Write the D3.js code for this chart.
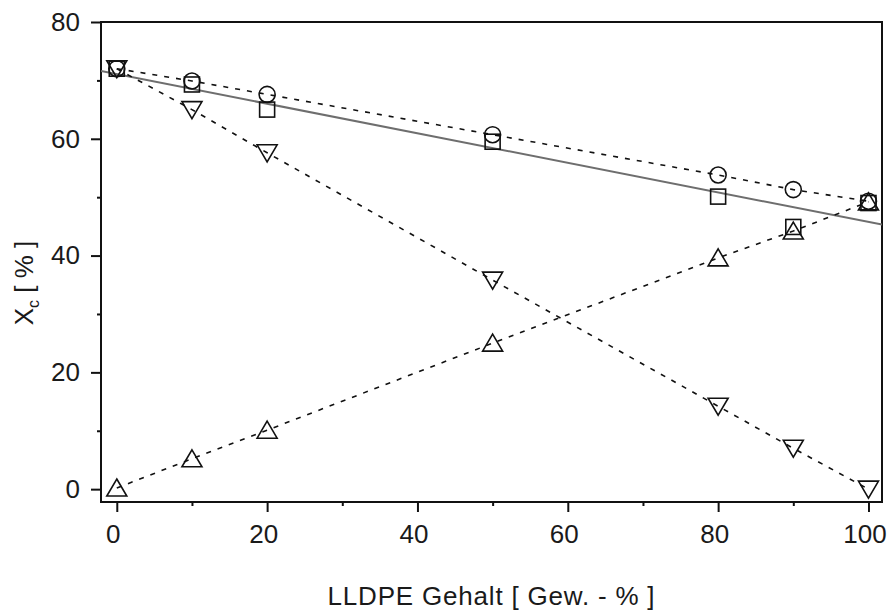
<!DOCTYPE html>
<html>
<head>
<meta charset="utf-8">
<script src="https://cdn.jsdelivr.net/npm/d3@7"></script>
<style>
  html, body { margin: 0; padding: 0; background: #fff; }
  svg text { font-family: "Liberation Sans", Arial, sans-serif; fill: #1a1a1a; }
</style>
</head>
<body>
<svg id="chart" width="889" height="612"></svg>
<script>
// ---- data ----
const xValues = [0, 10, 20, 50, 80, 90, 100];
const circleValues   = [72.0, 69.9, 67.6, 60.7, 53.8, 51.3, 49.3];
const squareValues   = [72.0, 69.3, 65.0, 59.5, 50.1, 44.9, 49.0];
const triUpValues    = [0.2, 5.2, 10.1, 25.0, 39.6, 44.2, 49.2];
const triDownValues  = [72.0, 65.0, 57.6, 35.8, 14.2, 7.0, 0.0];
const fitLineX = [-2.1, 101.8];
const fitLineY = [71.6, 45.3];
const xMajorTicks = [0, 20, 40, 60, 80, 100];
const xMinorTicks = [10, 30, 50, 70, 90];
const yMajorTicks = [0, 20, 40, 60, 80];
const yMinorTicks = [10, 30, 50, 70];
const xLabel = "LLDPE Gehalt [ Gew. - % ]";

(function () {
// ---- layout ----
const svg = d3.select("#chart");
const mLeft = 101, mRight = 882, mTop = 22, mBottom = 502;
const x = d3.scaleLinear().domain([-2.1, 101.8]).range([mLeft, mRight]);
const y = d3.scaleLinear().domain([-2.2, 80]).range([mBottom, mTop]);
const FS = 26;

function styleAxis(g) {
  g.select(".domain").remove();
  g.selectAll(".tick line").attr("stroke", "#111").attr("stroke-width", 2);
  g.selectAll(".tick text").attr("font-size", FS).attr("fill", "#1a1a1a")
    .attr("font-family", "Liberation Sans, Arial, sans-serif");
}
svg.append("g").attr("transform", `translate(0,${mBottom})`)
  .call(d3.axisBottom(x).tickValues(xMajorTicks).tickSize(10).tickPadding(13).tickFormat(d3.format("d")))
  .call(styleAxis)
  .call(g => g.selectAll(".tick text").attr("dx", -4));
svg.append("g").attr("transform", `translate(0,${mBottom})`)
  .call(d3.axisBottom(x).tickValues(xMinorTicks).tickSize(4).tickFormat(""))
  .call(styleAxis);
svg.append("g").attr("transform", `translate(${mLeft},0)`)
  .call(d3.axisLeft(y).tickValues(yMajorTicks).tickSize(10).tickPadding(11).tickFormat(d3.format("d")))
  .call(styleAxis);
svg.append("g").attr("transform", `translate(${mLeft},0)`)
  .call(d3.axisLeft(y).tickValues(yMinorTicks).tickSize(4).tickFormat(""))
  .call(styleAxis);

// frame
svg.append("rect").attr("x", mLeft).attr("y", mTop)
  .attr("width", mRight - mLeft).attr("height", mBottom - mTop)
  .attr("fill", "none").attr("stroke", "#111").attr("stroke-width", 2);

// clip
svg.append("clipPath").attr("id", "clip").append("rect")
  .attr("x", mLeft).attr("y", mTop).attr("width", mRight - mLeft).attr("height", mBottom - mTop);
const plot = svg.append("g").attr("clip-path", "url(#clip)");

// fit line
plot.append("line")
  .attr("x1", x(fitLineX[0])).attr("y1", y(fitLineY[0]))
  .attr("x2", x(fitLineX[1])).attr("y2", y(fitLineY[1]))
  .attr("stroke", "#6e6e6e").attr("stroke-width", 2);

// dashed series lines
const line = d3.line().x(d => x(d[0])).y(d => y(d[1]));
[circleValues, triUpValues, triDownValues].forEach(vals => {
  plot.append("path")
    .datum(xValues.map((xv, i) => [xv, vals[i]]))
    .attr("d", line)
    .attr("fill", "none").attr("stroke", "#111")
    .attr("stroke-width", 1.6).attr("stroke-dasharray", "5,7");
});

// markers
const mk = svg.append("g").attr("fill", "none").attr("stroke", "#111").attr("stroke-width", 1.6);
xValues.forEach((xv, i) => {
  mk.append("circle").attr("cx", x(xv)).attr("cy", y(circleValues[i])).attr("r", 8);
});
xValues.forEach((xv, i) => {
  mk.append("rect").attr("x", x(xv) - 7.5).attr("y", y(squareValues[i]) - 7.5)
    .attr("width", 15).attr("height", 15);
});
xValues.forEach((xv, i) => {
  const cx = x(xv), cy = y(triUpValues[i]);
  mk.append("path").attr("d", `M${cx},${cy - 9}L${cx + 10},${cy + 8}L${cx - 10},${cy + 8}Z`);
});
xValues.forEach((xv, i) => {
  const cx = x(xv), cy = y(triDownValues[i]);
  mk.append("path").attr("d", `M${cx - 10},${cy - 8}L${cx + 10},${cy - 8}L${cx},${cy + 9}Z`);
});

// axis titles
svg.append("text").attr("x", (mLeft + mRight) / 2).attr("y", 605)
  .attr("text-anchor", "middle").attr("font-size", FS)
  .attr("letter-spacing", 0.8).text(xLabel);

const yl = svg.append("text").attr("transform", "translate(33,283) rotate(-90)")
  .attr("text-anchor", "middle").attr("font-size", FS);
yl.append("tspan").text("X");
yl.append("tspan").attr("font-size", 16).attr("dy", 6).text("c");
yl.append("tspan").attr("dy", -6).text(" [ % ]");
})();
</script>
</body>
</html>
